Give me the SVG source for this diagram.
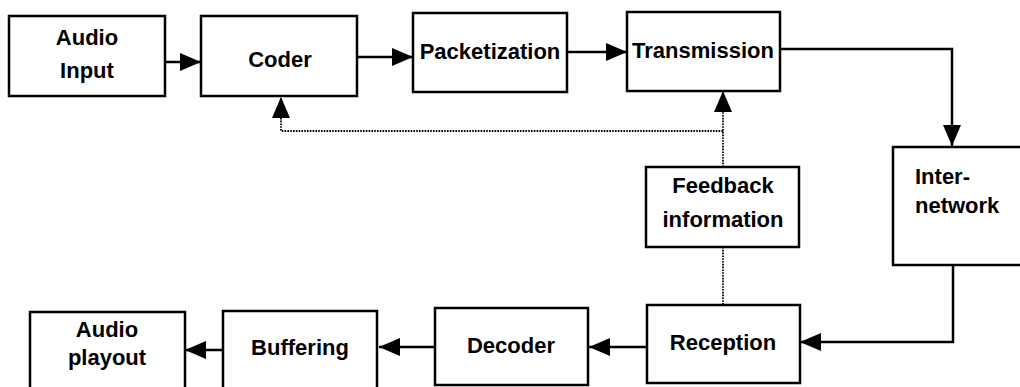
<svg xmlns="http://www.w3.org/2000/svg" width="1020" height="387" viewBox="0 0 1020 387">
  <defs>
    <style>
      .box { fill: #fff; stroke: #000; stroke-width: 2.5; }
      .lbl { font-family: "Liberation Sans", Arial, sans-serif; font-weight: bold; font-size: 22px; fill: #000; text-anchor: middle; }
      .flow { fill: none; stroke: #000; stroke-width: 2.5; marker-end: url(#head); }
      .dot { fill: none; stroke: #000; stroke-width: 1.8; stroke-dasharray: 1.6 1.2; }
      .dotArrow { marker-end: url(#head); }
    </style>
    <marker id="head" markerUnits="userSpaceOnUse" markerWidth="21" markerHeight="18" viewBox="0 0 21 18" refX="21" refY="9" orient="auto">
      <path d="M0,0 L21,9 L0,18 Z" fill="#000"/>
    </marker>
  </defs>
  <rect width="1020" height="387" fill="#fff"/>

  <!-- connectors -->
  <g id="connectors">
    <path class="flow" d="M164,62 H201"/>
    <path class="flow" d="M357,57 H413"/>
    <path class="flow" d="M567,52 H627"/>
    <path class="flow" d="M780,49 H952 V146"/>
    <path class="flow" d="M953,265 V342 H800"/>
    <path class="flow" d="M647,347 H589"/>
    <path class="flow" d="M435,347 H379"/>
    <path class="flow" d="M223,350 H185"/>
    <path class="dot dotArrow" d="M723,167 V91"/>
    <path class="dot dotArrow" d="M723,131 H281 V97"/>
    <path class="dot" d="M723,247 V305"/>
  </g>

  <!-- nodes -->
  <g id="audio-input">
    <rect class="box" x="9" y="16" width="156" height="80"/>
    <text class="lbl" x="87" y="45">Audio</text>
    <text class="lbl" x="87" y="78">Input</text>
  </g>
  <g id="coder">
    <rect class="box" x="201" y="16" width="156" height="80"/>
    <text class="lbl" x="280" y="67">Coder</text>
  </g>
  <g id="packetization">
    <rect class="box" x="413" y="13" width="154" height="79"/>
    <text class="lbl" x="490" y="59">Packetization</text>
  </g>
  <g id="transmission">
    <rect class="box" x="627" y="12" width="153" height="79"/>
    <text class="lbl" x="703" y="58">Transmission</text>
  </g>
  <g id="internetwork">
    <rect class="box" x="893" y="147" width="135" height="118"/>
    <text class="lbl" x="915" y="184" style="text-anchor:start">Inter-</text>
    <text class="lbl" x="915" y="213" style="text-anchor:start">network</text>
  </g>
  <g id="feedback">
    <rect class="box" x="646" y="167" width="153" height="80"/>
    <text class="lbl" x="723" y="193">Feedback</text>
    <text class="lbl" x="723" y="227">information</text>
  </g>
  <g id="reception">
    <rect class="box" x="647" y="305" width="153" height="78"/>
    <text class="lbl" x="723" y="350">Reception</text>
  </g>
  <g id="decoder">
    <rect class="box" x="435" y="308" width="153" height="77"/>
    <text class="lbl" x="511" y="353">Decoder</text>
  </g>
  <g id="buffering">
    <rect class="box" x="223" y="311" width="154" height="80"/>
    <text class="lbl" x="300" y="355">Buffering</text>
  </g>
  <g id="audio-playout">
    <rect class="box" x="30" y="312" width="155" height="80"/>
    <text class="lbl" x="107" y="337">Audio</text>
    <text class="lbl" x="107" y="365">playout</text>
  </g>
</svg>
